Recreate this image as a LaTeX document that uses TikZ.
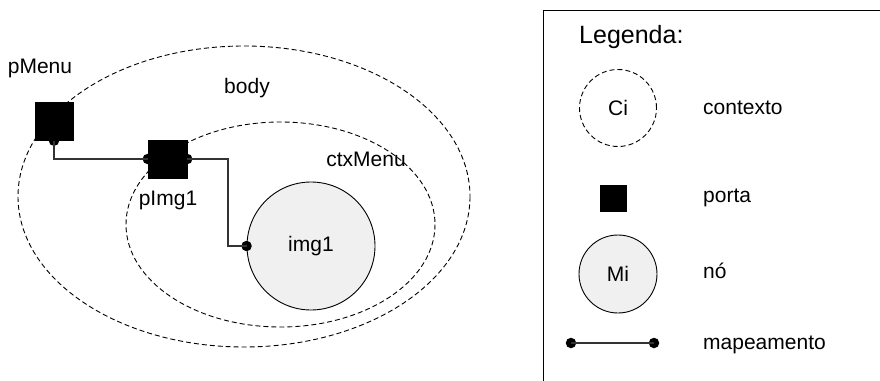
\documentclass[tikz,border=0pt]{standalone}
\usepackage{fontspec}
\setmainfont{Liberation Sans}
\definecolor{nodefill}{HTML}{F0F0F0}
\definecolor{linegray}{HTML}{333333}
\begin{document}
\begin{tikzpicture}[x=1pt,y=-1pt,
  ctx/.style={draw=black,line width=0.9pt,dash pattern=on 5pt off 3pt},
  porta/.style={draw=black,fill=black,minimum width=38pt,minimum height=38pt,inner sep=0pt},
  noh/.style={circle,draw=black,line width=0.9pt,fill=nodefill,inner sep=0pt},
  mapline/.style={draw=linegray,line width=1.2pt},
  dot/.style={circle,fill=black,inner sep=0pt,minimum size=10.5pt},
  lbl/.style={font=\fontsize{21}{24}\selectfont,inner sep=0pt},
  legtxt/.style={font=\fontsize{21}{24}\selectfont,inner sep=0pt,anchor=west}]
\useasboundingbox (0,0) rectangle (880,380);
\clip (0,0) rectangle (880,380);
% contexts
\draw[ctx] (244,196.5) ellipse [x radius=226, y radius=150.5];
\draw[ctx] (280.5,224.5) ellipse [x radius=154.5, y radius=102.5];
% node img1
\node[noh,minimum size=128pt] (img1) at (311,246) {};
\node[lbl] at (img1.center) {img1};
% ports
\node[porta] (pMenu) at (54,121.5) {};
\node[porta,minimum width=39pt] (pImg1) at (167.5,159) {};
% mapping dots
\node[dot] (dA) at (pMenu.south) {};
\node[dot] (dB) at (pImg1.west) {};
\node[dot] (dC) at (pImg1.east) {};
\node[dot] (dD) at (img1.west) {};
% mappings
\draw[mapline] (dA.center) |- (dB.center);
\draw[mapline] (dC.center) -- (228,159) |- (dD.center);
% labels
\node[lbl] (tpMenu) at (40,68) {pMenu};
\node[lbl] (tbody) at (247,88) {body};
\node[lbl] (tpImg1) at (168,200) {pImg1};
\node[lbl] (tctx) at (366,159) {ctxMenu};
% legend
\draw[line width=0.9pt] (543,400) -- (543,10) -- (900,10);
\node[font=\fontsize{25}{28}\selectfont,inner sep=0pt,anchor=west] (leg) at (579,37) {Legenda:};
\node[circle,ctx,minimum size=77pt,inner sep=0pt] (ci) at (618,108) {};
\node[lbl] at (ci.center) {Ci};
\node[legtxt] (tcontexto) at (703,108) {contexto};
\node[fill=black,minimum size=27pt,inner sep=0pt] (lp) at (613.5,198.5) {};
\node[legtxt] (tporta) at (703,198) {porta};
\node[noh,minimum size=78pt] (mi) at (618,274) {};
\node[lbl] at (mi.center) {Mi};
\node[legtxt] (tno) at (703,271) {nó};
\node[dot] (m1) at (571,343) {};
\node[dot] (m2) at (654,343) {};
\draw[mapline] (m1.center) -- (m2.center);
\node[legtxt] (tmap) at (703,345) {mapeamento};
\end{tikzpicture}
\end{document}
